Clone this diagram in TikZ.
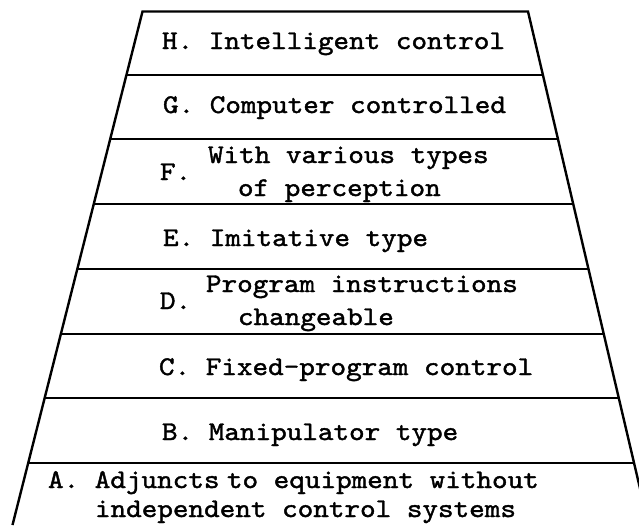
\documentclass[tikz,border=0pt]{standalone}
\usepackage{fontspec}
\usepackage{graphicx}
\newfontfamily\twfont{lmmono10-regular.otf}[FakeBold=1.4]
\newcommand{\tw}[1]{\scalebox{1.1}[1]{#1}}
\tikzset{
  edgeline/.style={line width=2.4pt, line join=miter},
  rule/.style={line width=2.2pt},
  lbl/.style={anchor=base west, inner sep=0pt, outer sep=0pt, font=\fontsize{27}{30}\selectfont\twfont},
}
\begin{document}
\begin{tikzpicture}[x=1pt,y=-1pt]
\useasboundingbox (0,0) rectangle (639,525);
\clip (0,0) rectangle (639,525);
% outline of the pyramid
\draw[edgeline] (12.5,525) -- (142.5,11.5) -- (528,11.5) -- (648.6,525);
% layer rules
\draw[rule] (126.6,75)  -- (542.8,75);
\draw[rule] (110.4,139) -- (557.8,139);
\draw[rule] (94.0,204)  -- (573.1,204);
\draw[rule] (77.6,269)  -- (588.4,269);
\draw[rule] (61.2,334)  -- (603.7,334);
\draw[rule] (45.1,398)  -- (618.7,398);
\draw[rule] (28.7,463)  -- (634.0,463);
% labels
\node[lbl] (H)  at (162,49)  {\tw{H. Intelligent control}};
\node[lbl] (G)  at (163,113) {\tw{G. Computer controlled}};
\node[lbl] (F1) at (208,163) {\tw{With various types}};
\node[lbl] (F)  at (160,180) {\tw{F.}};
\node[lbl] (F2) at (238,196) {\tw{of perception}};
\node[lbl] (E)  at (163,246) {\tw{E. Imitative type}};
\node[lbl] (D1) at (206,292) {\tw{Program instructions}};
\node[lbl] (D)  at (160,309) {\tw{D.}};
\node[lbl] (D2) at (238,325) {\tw{changeable}};
\node[lbl] (C)  at (159,375) {\tw{C. Fixed-program control}};
\node[lbl] (B)  at (162,440) {\tw{B. Manipulator type}};
\node[lbl] (A1) at (48,488)  {\tw{A. Adjuncts\hspace{0.25em}to equipment without}};
\node[lbl] (A2) at (95,517)  {\tw{independent control systems}};
\end{tikzpicture}
\end{document}
